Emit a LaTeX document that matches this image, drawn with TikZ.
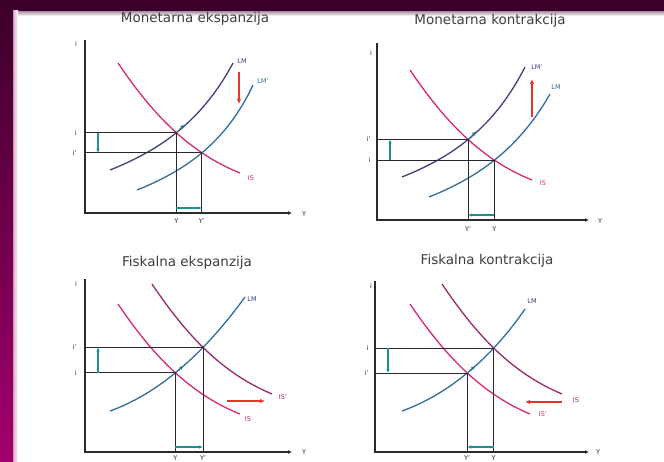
\documentclass[tikz,border=0pt]{standalone}
\usepackage{fontspec}
\setmainfont{DejaVu Sans}
\usepackage{tikz}
\usetikzlibrary{arrows.meta, calc, intersections}
\definecolor{Plum}{HTML}{3B0029}
\definecolor{Berry}{HTML}{A3006E}
\definecolor{Navy}{HTML}{3C4280}
\definecolor{Steel}{HTML}{2F6E9E}
\definecolor{Pink}{HTML}{D6287A}
\definecolor{Wine}{HTML}{962A6A}
\definecolor{Teal}{HTML}{1C9090}
\definecolor{Red}{HTML}{E8342C}
\definecolor{Ink}{HTML}{2A2A2A}

\begin{document}
\begin{tikzpicture}[
  x=1pt, y=-1pt,
  axis/.style={draw=Ink, line width=1.4pt, -{Latex[length=4pt,width=4pt]}},
  guide/.style={draw=Ink, line width=0.9pt},
  curve/.style={line width=1.3pt},
  shiftarrow/.style={-{Latex[length=4pt,width=3.5pt]}, draw=Teal, line width=1.2pt},
  movearrow/.style={-{Latex[length=5pt,width=4.5pt]}, draw=Red, line width=1.4pt},
  pointer/.style={-{Latex[length=4pt,width=4pt]}, draw=Teal!70!Navy, line width=0.8pt},
  title/.style={font=\fontsize{13.5}{16}\selectfont, text=Ink!90},
  tag/.style={font=\fontsize{6.5}{7.5}\selectfont, text=Ink, inner sep=1pt}
]
\useasboundingbox (0,0) rectangle (664,462);
\fill[white] (0,0) rectangle (664,462);
\shade[top color=Plum!45, bottom color=white] (0,11) rectangle (664,16);
\fill[Plum] (0,0) rectangle (664,11);
\shade[left color=Berry!35, right color=white] (13,11) rectangle (18,462);
\shade[top color=Plum, bottom color=Berry] (0,0) rectangle (13,462);
\fill[Plum] (0,0) rectangle (664,8);

\node[title] (meTitle) at (195,19) {Monetarna ekspanzija};
\coordinate (me-o) at (85,213);
\coordinate (me-top) at (85,40);
\coordinate (me-x) at (292,213);
\coordinate (me-r1) at (239,72);
\coordinate (me-r2) at (239,104);
\draw[curve, Navy, name path=me-lm] (110,170) .. controls (155,152) and (200,125) .. (233,63);
\draw[curve, Steel, name path=me-lm2] (137,190) .. controls (182,172) and (225,145) .. (253,85);
\draw[curve, Pink, name path=me-is] (118,63) .. controls (153,115) and (190,153) .. (240,173);
\path[name intersections={of=me-lm and me-is, by=me-e1}];
\path[name intersections={of=me-lm2 and me-is, by=me-e2}];
\draw[guide] (me-o |- me-e1) -- (me-e1) -- (me-e1 |- me-o);
\draw[guide] (me-o |- me-e2) -- (me-e2) -- (me-e2 |- me-o);
\draw[axis] (me-top) -- (me-o) -- (me-x);
\draw[pointer] ($(me-e1)+(2,-2)$) -- ($(me-e1)+(8,-8)$);
\draw[movearrow] (me-r1) -- (me-r2);
\draw[shiftarrow] ($(me-o |- me-e1)+(13,0)$) -- ($(me-o |- me-e2)+(13,0)$);
\draw[shiftarrow] ($(me-e1 |- me-o)+(0,-5)$) -- ($(me-e2 |- me-o)+(0,-5)$);
\node[tag] (meI) at ($(me-top)+(-9,4)$) {i};
\node[tag, anchor=east] (meI1) at ($(me-o |- me-e1)+(-7,0)$) {i};
\node[tag, anchor=east] (meI2) at ($(me-o |- me-e2)+(-7,0)$) {i'};
\node[tag, anchor=north] (meY1) at ($(me-e1 |- me-o)+(0,5)$) {Y};
\node[tag, anchor=north] (meY2) at ($(me-e2 |- me-o)+(0,5)$) {Y'};
\node[tag] (meY) at ($(me-x)+(12,1)$) {Y};
\node[tag, text=Navy] (meLM) at (242,61) {LM};
\node[tag, text=Steel] (meLM2) at (263,81) {LM'};
\node[tag, text=Pink] (meIS) at (251,178) {IS};

\node[title] (mkTitle) at (490,21) {Monetarna kontrakcija};
\coordinate (mk-o) at (377,220);
\coordinate (mk-top) at (377,43);
\coordinate (mk-x) at (589,220);
\coordinate (mk-r1) at (532,117);
\coordinate (mk-r2) at (532,79);
\draw[curve, Navy, name path=mk-lm2] (402,177) .. controls (447,159) and (492,132) .. (525,67);
\draw[curve, Steel, name path=mk-lm] (429,197) .. controls (474,179) and (517,152) .. (550,94);
\draw[curve, Pink, name path=mk-is] (410,70) .. controls (445,122) and (482,160) .. (532,180);
\path[name intersections={of=mk-lm and mk-is, by=mk-e1}];
\path[name intersections={of=mk-lm2 and mk-is, by=mk-e2}];
\draw[guide] (mk-o |- mk-e1) -- (mk-e1) -- (mk-e1 |- mk-o);
\draw[guide] (mk-o |- mk-e2) -- (mk-e2) -- (mk-e2 |- mk-o);
\draw[axis] (mk-top) -- (mk-o) -- (mk-x);
\draw[pointer] ($(mk-e2)+(2,-2)$) -- ($(mk-e2)+(8,-8)$);
\draw[movearrow] (mk-r1) -- (mk-r2);
\draw[shiftarrow] ($(mk-o |- mk-e1)+(13,0)$) -- ($(mk-o |- mk-e2)+(13,0)$);
\draw[shiftarrow] ($(mk-e1 |- mk-o)+(0,-5)$) -- ($(mk-e2 |- mk-o)+(0,-5)$);
\node[tag] (mkI) at ($(mk-top)+(-6,10)$) {i};
\node[tag, anchor=east] (mkI1) at ($(mk-o |- mk-e1)+(-5,0)$) {i};
\node[tag, anchor=east] (mkI2) at ($(mk-o |- mk-e2)+(-5,0)$) {i'};
\node[tag, anchor=north] (mkY1) at ($(mk-e1 |- mk-o)+(0,6)$) {Y};
\node[tag, anchor=north] (mkY2) at ($(mk-e2 |- mk-o)+(0,6)$) {Y'};
\node[tag] (mkY) at ($(mk-x)+(11,1)$) {Y};
\node[tag, text=Navy] (mkLM2) at (537,67) {LM'};
\node[tag, text=Steel] (mkLM) at (556,87) {LM};
\node[tag, text=Pink] (mkIS) at (543,183) {IS};

\node[title] (feTitle) at (187,263) {Fiskalna ekspanzija};
\coordinate (fe-o) at (85,452);
\coordinate (fe-top) at (85,279);
\coordinate (fe-x) at (292,452);
\coordinate (fe-r1) at (227,401);
\coordinate (fe-r2) at (265,401);
\draw[curve, Steel, name path=fe-lm] (110,411) .. controls (163,392) and (208,348) .. (245,297);
\draw[curve, Pink, name path=fe-is] (118,304) .. controls (153,356) and (190,394) .. (240,414);
\draw[curve, Wine, name path=fe-is2] (152,284) .. controls (187,336) and (222,373) .. (272,394);
\path[name intersections={of=fe-lm and fe-is, by=fe-e1}];
\path[name intersections={of=fe-lm and fe-is2, by=fe-e2}];
\draw[guide] (fe-o |- fe-e1) -- (fe-e1) -- (fe-e1 |- fe-o);
\draw[guide] (fe-o |- fe-e2) -- (fe-e2) -- (fe-e2 |- fe-o);
\draw[axis] (fe-top) -- (fe-o) -- (fe-x);
\draw[pointer] ($(fe-e1)+(2,-2)$) -- ($(fe-e1)+(8,-7)$);
\draw[movearrow] (fe-r1) -- (fe-r2);
\draw[shiftarrow] ($(fe-o |- fe-e1)+(13,0)$) -- ($(fe-o |- fe-e2)+(13,0)$);
\draw[shiftarrow] ($(fe-e1 |- fe-o)+(0,-5)$) -- ($(fe-e2 |- fe-o)+(0,-5)$);
\node[tag] (feI) at ($(fe-top)+(-9,5)$) {i};
\node[tag, anchor=east] (feI1) at ($(fe-o |- fe-e1)+(-7,0)$) {i};
\node[tag, anchor=east] (feI2) at ($(fe-o |- fe-e2)+(-7,0)$) {i'};
\node[tag, anchor=north] (feY1) at ($(fe-e1 |- fe-o)+(0,2.5)$) {Y};
\node[tag, anchor=north] (feY2) at ($(fe-e2 |- fe-o)+(0,2.5)$) {Y'};
\node[tag] (feY) at ($(fe-x)+(12,0)$) {Y};
\node[tag, text=Navy] (feLM) at (252,299) {LM};
\node[tag, text=Pink] (feIS) at (248,419) {IS};
\node[tag, text=Wine] (feIS2) at (283,397) {IS'};

\node[title] (fkTitle) at (487,261) {Fiskalna kontrakcija};
\coordinate (fk-o) at (375,452);
\coordinate (fk-top) at (375,281);
\coordinate (fk-x) at (589,452);
\coordinate (fk-r1) at (562,402);
\coordinate (fk-r2) at (525,402);
\draw[curve, Steel, name path=fk-lm] (402,411) .. controls (455,392) and (497,350) .. (525,309);
\draw[curve, Wine, name path=fk-is] (442,284) .. controls (477,336) and (512,373) .. (562,394);
\draw[curve, Pink, name path=fk-is2] (410,304) .. controls (445,356) and (482,394) .. (530,414);
\path[name intersections={of=fk-lm and fk-is, by=fk-e1}];
\path[name intersections={of=fk-lm and fk-is2, by=fk-e2}];
\draw[guide] (fk-o |- fk-e1) -- (fk-e1) -- (fk-e1 |- fk-o);
\draw[guide] (fk-o |- fk-e2) -- (fk-e2) -- (fk-e2 |- fk-o);
\draw[axis] (fk-top) -- (fk-o) -- (fk-x);
\draw[pointer] ($(fk-e2)+(2,-2)$) -- ($(fk-e2)+(8,-7)$);
\draw[movearrow] (fk-r1) -- (fk-r2);
\draw[shiftarrow] ($(fk-o |- fk-e1)+(13,0)$) -- ($(fk-o |- fk-e2)+(13,0)$);
\draw[shiftarrow] ($(fk-e1 |- fk-o)+(0,-5)$) -- ($(fk-e2 |- fk-o)+(0,-5)$);
\node[tag] (fkI) at ($(fk-top)+(-4,5)$) {i};
\node[tag, anchor=east] (fkI1) at ($(fk-o |- fk-e1)+(-5,0)$) {i};
\node[tag, anchor=east] (fkI2) at ($(fk-o |- fk-e2)+(-5,0)$) {i'};
\node[tag, anchor=north] (fkY1) at ($(fk-e1 |- fk-o)+(0,2.5)$) {Y};
\node[tag, anchor=north] (fkY2) at ($(fk-e2 |- fk-o)+(0,2.5)$) {Y'};
\node[tag] (fkY) at ($(fk-x)+(9,0)$) {Y};
\node[tag, text=Navy] (fkLM) at (532,301) {LM};
\node[tag, text=Wine] (fkIS) at (576,400) {IS};
\node[tag, text=Pink] (fkIS2) at (543,414) {IS'};
\end{tikzpicture}
\end{document}
